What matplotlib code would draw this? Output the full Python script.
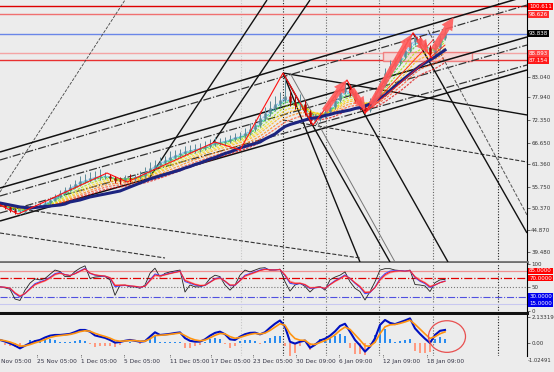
import numpy as np
import pandas as pd
import matplotlib
matplotlib.use("Agg")
import matplotlib.pyplot as plt
from matplotlib.patches import Rectangle, Ellipse
from matplotlib.transforms import blended_transform_factory as btf

# ---------------- data ----------------
close = [51.16, 50.67, 49.92, 49.42, 49.42, 50.17, 50.67, 50.92, 51.16, 51.66,
         52.41, 53.16, 54.15, 54.90, 55.65, 56.39, 57.14, 57.39, 57.89, 58.14,
         58.39, 58.39, 57.89, 57.39, 57.14, 57.89, 57.64, 58.14, 58.39, 59.38,
         60.38, 61.12, 61.87, 62.37, 63.12, 63.62, 64.11, 64.61, 64.86, 65.11,
         65.36, 65.86, 66.35, 66.85, 66.85, 67.10, 67.60, 68.10, 68.35, 69.09,
         70.09, 71.09, 72.83, 74.07, 75.32, 76.31, 77.31, 78.31, 76.81, 76.07,
         76.31, 74.32, 72.08, 72.58, 73.33, 74.32, 75.57, 77.31, 79.30, 80.30,
         79.05, 77.31, 75.57, 74.82, 77.06, 78.31, 81.05, 84.03, 85.78, 86.77,
         88.27, 89.76, 91.75, 92.75, 91.50, 90.51, 88.76, 90.26, 92.75, 94.24]
high = [51.9, 51.5, 51.0, 50.3, 50.0, 50.6, 51.2, 51.5, 51.8, 52.3,
        53.1, 53.8, 54.9, 55.6, 56.5, 57.4, 58.3, 59.0, 59.3, 59.6,
        60.2, 59.4, 59.0, 58.5, 58.2, 58.6, 58.8, 59.0, 59.6, 60.6,
        61.8, 62.3, 63.0, 63.4, 64.6, 64.9, 65.2, 65.8, 66.0, 66.3,
        66.5, 67.0, 67.6, 68.0, 67.9, 68.2, 68.7, 69.0, 69.4, 70.3,
        71.5, 72.7, 74.5, 75.6, 77.0, 78.3, 79.4, 83.0, 79.9, 78.3,
        78.8, 77.2, 74.9, 73.8, 74.4, 75.4, 76.8, 78.6, 80.6, 81.6,
        81.0, 79.6, 77.9, 76.2, 77.9, 79.6, 82.2, 85.4, 87.2, 88.1,
        89.6, 91.2, 93.1, 93.6, 93.2, 92.1, 91.0, 91.3, 93.6, 95.0]
low = [50.8, 50.2, 49.4, 48.8, 48.7, 49.1, 49.9, 50.3, 50.6, 50.9,
       51.3, 52.1, 52.9, 53.8, 54.6, 55.3, 56.0, 56.6, 57.0, 57.3,
       57.5, 57.6, 57.1, 56.6, 56.5, 56.8, 57.0, 57.2, 57.6, 58.0,
       59.0, 60.0, 60.8, 61.4, 62.0, 62.7, 63.0, 63.5, 64.0, 64.2,
       64.4, 64.9, 65.3, 65.8, 66.0, 66.2, 66.6, 67.0, 67.4, 67.9,
       68.6, 69.6, 70.6, 72.2, 73.4, 74.6, 75.6, 76.5, 75.8, 75.0,
       74.9, 73.5, 71.4, 71.5, 72.0, 72.9, 73.8, 75.0, 76.8, 78.7,
       78.2, 76.5, 74.9, 74.1, 74.3, 76.5, 77.8, 80.6, 83.5, 85.0,
       86.1, 87.6, 89.2, 90.9, 90.6, 89.5, 87.9, 88.2, 89.8, 92.2]
first_open = 51.40
navy_ma = [51.66, 51.41, 51.16, 50.92, 50.67, 50.54, 50.42, 50.54, 50.67, 50.79,
           50.92, 51.04, 51.16, 51.41, 51.91, 52.16, 52.41, 52.79, 53.16, 53.41,
           53.66, 53.90, 54.15, 54.40, 54.65, 55.15, 55.65, 56.14, 56.64, 57.14,
           57.64, 58.01, 58.39, 58.76, 59.13, 59.51, 59.88, 60.38, 60.75, 61.25,
           61.62, 62.12, 62.62, 62.99, 63.49, 63.99, 64.36, 64.86, 65.36, 65.73,
           66.11, 66.48, 66.85, 67.60, 68.22, 68.84, 69.84, 70.71, 71.21, 71.58,
           71.96, 72.33, 72.70, 72.83, 73.08, 73.45, 73.70, 74.07, 74.32, 74.57,
           74.82, 75.19, 75.44, 75.82, 76.31, 77.06, 77.81, 78.55, 79.67, 80.80,
           81.79, 82.79, 83.78, 84.78, 85.78, 86.52, 87.27, 88.02, 88.89, 89.76]
rsi = [51, 49, 46, 25, 22, 44, 59, 68, 66, 69,
       78, 87, 84, 73, 73, 84, 91, 96, 69, 72,
       73, 73, 66, 33, 55, 55, 51, 51, 48, 55,
       80, 91, 72, 80, 83, 85, 87, 40, 55, 51,
       51, 55, 69, 76, 73, 55, 44, 55, 76, 87,
       83, 87, 91, 92, 86, 87, 89, 62, 42, 55,
       59, 52, 40, 50, 52, 44, 66, 72, 76, 83,
       62, 48, 41, 23, 41, 62, 87, 90, 90, 87,
       86, 84, 87, 56, 55, 53, 41, 60, 66, 67]
macd = [0.25, 0.12, -0.03, -0.22, -0.44, -0.22, -0.02, 0.15, 0.25, 0.45,
        0.60, 0.66, 0.66, 0.70, 0.75, 0.90, 1.07, 1.07, 0.93, 0.62,
        0.52, 0.42, 0.25, 0.03, 0.08, 0.18, 0.25, 0.18, 0.10, 0.15,
        0.52, 0.88, 0.66, 0.70, 0.75, 0.82, 0.87, 0.40, 0.18, 0.11,
        0.11, 0.30, 0.60, 0.83, 0.93, 0.72, 0.30, 0.25, 0.52, 0.72,
        0.83, 0.85, 0.71, 0.88, 1.25, 1.58, 1.85, 1.34, 0.10, -0.05,
        0.10, 0.20, -0.40, -0.15, 0.20, 0.35, 0.60, 0.95, 1.40, 1.58,
        0.93, 0.25, -0.20, -0.71, -0.30, 0.38, 1.48, 1.89, 1.65, 1.55,
        1.70, 1.85, 2.02, 1.20, 0.75, 0.35, 0.00, 0.66, 1.00, 1.07]

# horizontal price levels (main chart)
level_prices = [100.611, 98.626, 93.838, 88.893, 87.154]
level_labels = ["100.611", "98.626", "93.838", "88.893", "87.154"]
price_ticks = [83.040, 77.940, 72.350, 66.650, 61.360, 55.750, 50.370, 44.870, 39.480]

# trend lines (bar-axis x, price)
tl_x0 = [0, 0, 0, 0, 0, 0, 0, 150, 213, 283, 283, 283, 283, 290, 347, 413, 428, 0, 0]
tl_p0 = [54.40, 64.36, 62.37, 55.40, 53.41, 47.18, 49.17, 58.14, 66.60, 84.03, 72.33,
         84.03, 84.03, 84.03, 81.54, 93.99, 94.74, 50.92, 44.19]
tl_x1 = [125, 527, 527, 527, 527, 527, 527, 267, 310, 527, 527, 360, 390, 395, 448, 527, 527, 360, 165]
tl_p1 = [102.21, 103.21, 100.96, 93.00, 91.00, 84.78, 86.03, 102.21, 102.21, 73.58, 61.87,
         36.97, 36.97, 36.97, 36.97, 44.19, 48.68, 37.97, 37.97]

# zigzag
zz_x = [0, 18, 107, 127, 215, 240, 283, 313, 347, 365, 413, 432]
zz_p = [51.16, 48.92, 59.13, 56.89, 66.85, 64.86, 84.03, 71.09, 82.29, 74.07, 93.99, 87.77]
fan_x0 = [365, 365, 365]
fan_p0 = [74.07, 74.07, 74.07]
fan_x1 = [413, 433, 445]
fan_p1 = [93.99, 92.25, 91.00]

# arrows
ar_x0 = [323, 350, 370, 417, 432]
ar_p0 = [74.07, 80.55, 75.57, 93.00, 89.26]
ar_x1 = [348, 367, 413, 430, 455]
ar_p1 = [82.79, 74.32, 94.24, 88.52, 98.48]

rect_x = [383, 472]
rect_p = [87.02, 89.26]

vlines_x = [241, 283, 326, 379, 433, 498]

date_pos = [1, 37, 81, 124, 170, 211, 253, 296, 339, 383, 427]
date_lbl = ["Nov 05:00", "25 Nov 05:00", "1 Dec 05:00", "5 Dec 05:00", "11 Dec 05:00",
            "17 Dec 05:00", "23 Dec 05:00", "30 Dec 09:00", "6 Jan 09:00", "12 Jan 09:00",
            "18 Jan 09:00"]

rsi_levels = [85, 70, 50, 30, 15]

# ---------------- layout ----------------
W, H = 554, 372
BG = "#ececec"
BAR_W = 5
fig = plt.figure(figsize=(W / 100, H / 100), dpi=100, facecolor=BG)


def add_ax(y0, y1, x0=0, x1=527):
    return fig.add_axes([x0 / W, 1 - y1 / H, (x1 - x0) / W, (y1 - y0) / H])


ax = add_ax(0, 262)
ax_r = add_ax(263, 313)
ax_m = add_ax(315, 356)
for a in (ax, ax_r, ax_m):
    a.set_facecolor(BG)
    a.set_xlim(0, 527)
    for s in a.spines.values():
        s.set_visible(False)
    a.spines["right"].set_visible(True)
    a.spines["right"].set_color("black")
    a.spines["right"].set_linewidth(0.8)
    a.tick_params(axis="x", bottom=False, labelbottom=False)
    a.yaxis.tick_right()
    a.tick_params(axis="y", length=2, width=0.5, pad=1, labelsize=4, colors="#333333")

ax.spines["bottom"].set_visible(True)
ax.spines["bottom"].set_color("#707070")
ax.spines["bottom"].set_linewidth(2)
ax_r.spines["bottom"].set_visible(True)
ax_r.spines["bottom"].set_color("#111111")
ax_r.spines["bottom"].set_linewidth(2.2)

ax.set_ylim(36.97, 102.21)
ax_r.set_ylim(-4.9, 102.1)
ax_m.set_ylim(-1.07, 2.30)

n = len(close)
bx = np.arange(n) * BAR_W
close_a = np.array(close)
open_a = np.r_[first_open, close_a[:-1]]

# vertical separators
for a in (ax, ax_r, ax_m):
    for i, xv in enumerate(vlines_x):
        col = "#c8c8c8" if i == 0 else ("#222222" if xv in (283, 498) else "#666666")
        a.axvline(xv, color=col, lw=0.8, ls=(0, (1, 1.5)), zorder=1)

# horizontal price levels
lvl_col = ["#dd0000", "#f07070", "#6a86e8", "#f4a4a4", "#e83030"]
for p, c in zip(level_prices, lvl_col):
    ax.axhline(p, color=c, lw=1.0, zorder=2)

# trend lines
tl_style = ["--", "-", "-.", "-", "-.", "-", "-.", "-", "-", "-", "--", "-", "-", "-", "-", "-", "--", "--", "--"]
tl_col = ["#444444", "#111111", "#333333", "#111111", "#333333", "#111111", "#333333", "#111111", "#111111",
          "#111111", "#333333", "#111111", "#111111", "#777777", "#111111", "#111111", "#555555", "#333333", "#333333"]
tl_lw = [0.6, 1.1, 0.9, 1.1, 0.9, 1.1, 0.9, 1.0, 1.0, 1.0, 0.8, 1.0, 1.0, 0.7, 1.0, 1.0, 0.7, 0.8, 0.8]
for i in range(len(tl_x0)):
    ax.plot([tl_x0[i], tl_x1[i]], [tl_p0[i], tl_p1[i]], ls=tl_style[i], color=tl_col[i],
            lw=tl_lw[i], zorder=3, solid_capstyle="butt")

# rectangle
ax.add_patch(Rectangle((rect_x[0], rect_p[0]), rect_x[1] - rect_x[0], rect_p[1] - rect_p[0],
                       fc="#f6d6d6", ec="#f07878", lw=1.0, alpha=0.9, zorder=2))

# ribbon of EMAs
rib_spans = [2, 3, 4, 6, 8, 10, 13, 16, 20]
rib_cols = ["#7ab8ff", "#20d0d0", "#30d030", "#a8e000", "#ffe000", "#ffb000", "#ff8000", "#ff4a20", "#e01010"]
cs = pd.Series(close_a)
for s, c in zip(rib_spans, rib_cols):
    ax.plot(bx, cs.ewm(span=s, adjust=False).mean(), color=c, lw=0.9, alpha=0.75, ls=(0, (2, 1)), zorder=4)

# candles
up = close_a >= open_a
ccol = np.where(up, "#5c8a98", "#b00000")
ax.vlines(bx, low, high, colors=ccol, lw=0.7, zorder=5)
ax.vlines(bx, np.minimum(open_a, close_a), np.maximum(open_a, close_a) + 0.05, colors=ccol, lw=1.8, zorder=5)

# navy MA
ax.plot(bx, navy_ma, color="#1c2480", lw=2.2, zorder=6)

# zigzag & fan
ax.plot(zz_x, zz_p, color="#ff1010", lw=0.8, zorder=6)
for i in range(len(fan_x0)):
    ax.plot([fan_x0[i], fan_x1[i]], [fan_p0[i], fan_p1[i]], color="#ff2020", lw=0.6, zorder=6)

# arrows
for i in range(len(ar_x0)):
    ax.annotate("", xy=(ar_x1[i], ar_p1[i]), xytext=(ar_x0[i], ar_p0[i]),
                arrowprops=dict(arrowstyle="simple,head_length=0.9,head_width=0.9,tail_width=0.45",
                                fc="#ff5a5a", ec="none", alpha=0.9), zorder=7)

# main y labels
ax.set_yticks(price_ticks)
ax.set_yticklabels([f"{v:.3f}" for v in price_ticks])
lbl_box = ["#ff0000", "#ff2a2a", "#000000", "#ff4040", "#ff1a1a"]
tr = btf(ax.transAxes, ax.transData)
for p, t, c in zip(level_prices, level_labels, lbl_box):
    ax.text(1.004, p, t, transform=tr, fontsize=4, color="white", va="center", ha="left",
            bbox=dict(boxstyle="square,pad=0.18", fc=c, ec="none"), clip_on=False)

# ---------------- RSI panel ----------------
rs = pd.Series(rsi, dtype=float)
lvl_sty = [("-", "#f09090", 0.9), ("-.", "#e00000", 0.9), (":", "#777777", 0.8),
           ("-.", "#5050e0", 0.8), ("-", "#c8c8f0", 0.8)]
for v, (ls, c, lw) in zip(rsi_levels, lvl_sty):
    ax_r.axhline(v, color=c, ls=ls, lw=lw, zorder=2)
ax_r.plot(bx, rs, color="#222222", lw=0.6, zorder=4)
ax_r.plot(bx, rs.ewm(span=4, adjust=False).mean(), color="#ff9090", lw=0.8, zorder=4)
ax_r.plot(bx, rs.ewm(span=3, adjust=False).mean(), color="#4a4aff", lw=0.8, zorder=5)
ax_r.plot(bx, rs.ewm(span=3.5, adjust=False).mean(), color="#ff2020", lw=0.7, zorder=5)
ax_r.set_yticks([100, 50, 0])
ax_r.set_yticklabels(["100", "50", "0"])
trr = btf(ax_r.transAxes, ax_r.transData)
for v, c in zip([85, 70, 30, 15], ["#ff0000", "#ff0000", "#0000ee", "#0000ee"]):
    ax_r.text(1.004, v, f"{v:.4f}", transform=trr, fontsize=4, color="white", va="center", ha="left",
              bbox=dict(boxstyle="square,pad=0.15", fc=c, ec="none"), clip_on=False)

# ---------------- MACD panel ----------------
ms = pd.Series(macd)
sig = ms.ewm(span=3, adjust=False).mean()
hist = (ms - sig) * 2.0
hcol = np.where(hist >= 0, "#2a8cf0", "#ff9a80")
ax_m.bar(bx, hist, width=2.2, color=hcol, zorder=3)
ax_m.plot(bx, ms, color="#0010c0", lw=1.5, zorder=4)
ax_m.plot(bx, sig, color="#ff9410", lw=1.2, zorder=5)
ax_m.add_patch(Ellipse((447, 0.53), 37, 2.6, fc="none", ec="#e85050", lw=0.9, zorder=6))
ax_m.set_yticks([2.13319, 0.0])
ax_m.set_yticklabels(["2.13319", "0.00"])
fig.text(552 / W, 1 - 361 / H, "-1.02491", fontsize=3.8, color="#333333",
         va="center", ha="right")

# date labels
trx = btf(ax_m.transData, ax_m.transAxes)
for xp, t in zip(date_pos, date_lbl):
    if xp > 5:
        ax_m.plot([xp, xp], [-0.02, 0.04], color="#555555", lw=0.6, ls=(0, (1, 1)),
                  transform=trx, clip_on=False)
    ax_m.text(xp, -0.08, t, transform=trx, fontsize=4.2, color="#333344", va="top", ha="left",
              clip_on=False)

fig.savefig("out.png", dpi=100, facecolor=BG)
